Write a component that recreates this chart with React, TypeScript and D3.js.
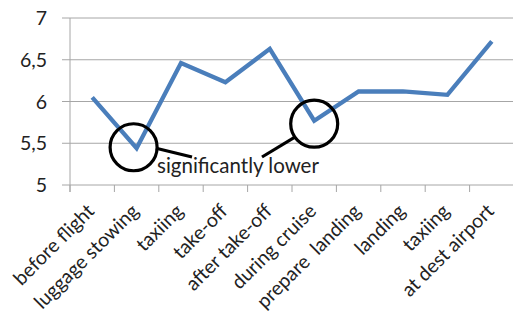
import React from "react";
import * as d3 from "d3";

const categories = [
  "before flight",
  "luggage stowing",
  "taxiing",
  "take-off",
  "after take-off",
  "during cruise",
  "prepare  landing",
  "landing",
  "taxiing",
  "at dest airport",
];
const values = [6.05, 5.44, 6.46, 6.23, 6.63, 5.77, 6.12, 6.12, 6.08, 6.72];
const yTicks = [5, 5.5, 6, 6.5, 7];
const highlighted = [1, 5];
const noteText = "significantly lower";

const W = 513;
const H = 322;
const margin = { left: 70, right: -1, top: 18, bottom: 137 };
const FONT = "Lato, 'Open Sans', sans-serif";

export default function App() {
  const x = d3
    .scaleBand<number>()
    .domain(d3.range(categories.length))
    .range([margin.left, W - margin.right]);
  const y = d3.scaleLinear().domain([5, 7]).range([H - margin.bottom, margin.top]);
  const cx = (i: number) => (x(i) as number) + x.bandwidth() / 2;
  const line = d3
    .line<number>()
    .x((_, i) => cx(i))
    .y((d) => y(d));
  const fmt = (v: number) => String(v).replace(".", ",");
  const y0 = y(5);
  const grid = "#a6a6a6";

  const c1 = { x: cx(highlighted[0]) - 3, y: y(values[highlighted[0]]) - 1 };
  const c2 = { x: cx(highlighted[1]), y: y(values[highlighted[1]]) + 3 };
  const r = 23.5;

  return (
    <svg
      width={W}
      height={H}
      style={{ position: "absolute", left: 0, top: 0, background: "#fff" }}
      fontFamily={FONT}
    >
      {yTicks.map((t) => (
        <g key={t}>
          <line x1={margin.left - 8} x2={W} y1={y(t)} y2={y(t)} stroke={grid} strokeWidth={1} />
          <text
            x={47}
            y={y(t)}
            dy="0.36em"
            textAnchor="end"
            fontSize={19.5}
            fill="#222"
          >
            {fmt(t)}
          </text>
        </g>
      ))}
      <line x1={margin.left} x2={margin.left} y1={margin.top} y2={y0 + 7} stroke={grid} />
      {d3.range(categories.length + 1).map((i) => {
        const xx = i < categories.length ? (x(i) as number) : W - margin.right;
        return <line key={i} x1={xx} x2={xx} y1={y0} y2={y0 + 7} stroke={grid} />;
      })}
      {categories.map((c, i) => (
        <text
          key={i}
          transform={`translate(${cx(i) - 7},${y0 + 17}) rotate(-45)`}
          dy="0.75em"
          textAnchor="end"
          fontSize={19.5}
          fill="#222"
          style={{ whiteSpace: "pre" }}
        >
          {c}
        </text>
      ))}
      <path
        d={line(values) as string}
        fill="none"
        stroke="#4a7ebb"
        strokeWidth={4.3}
        strokeLinejoin="miter"
      />
      <circle cx={c1.x} cy={c1.y} r={r} fill="none" stroke="#000" strokeWidth={3.2} />
      <circle cx={c2.x} cy={c2.y} r={r} fill="none" stroke="#000" strokeWidth={3.2} />
      <line x1={c1.x + r - 1} y1={c1.y + 1} x2={192} y2={157} stroke="#000" strokeWidth={3.2} />
      <line x1={262} y1={157} x2={c2.x - r + 5} y2={c2.y + 13} stroke="#000" strokeWidth={3.2} />
      <text x={157} y={173} fontSize={20.5} fill="#222">
        {noteText}
      </text>
    </svg>
  );
}
